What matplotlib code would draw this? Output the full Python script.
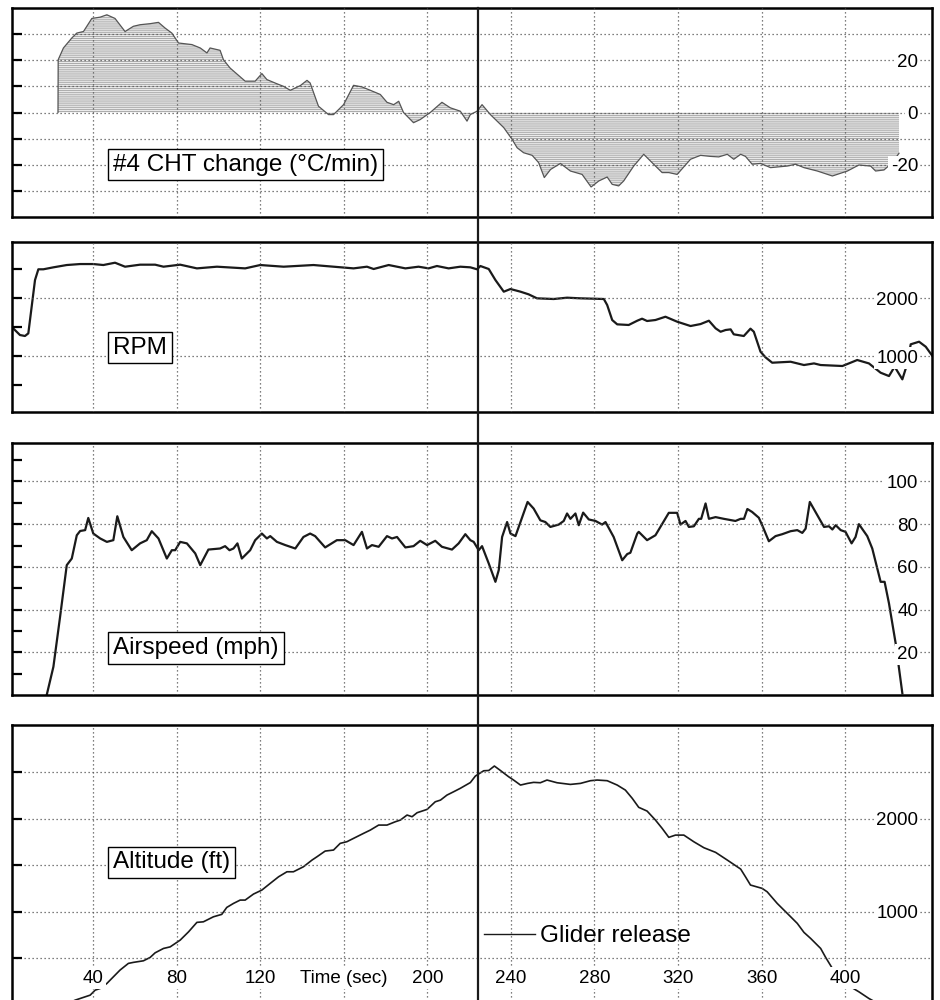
import matplotlib
matplotlib.use("Agg")
import matplotlib.pyplot as plt
import matplotlib.transforms as mtransforms
from matplotlib.lines import Line2D

plt.rcParams["font.family"] = ["Liberation Sans", "DejaVu Sans"]
plt.rcParams["hatch.linewidth"] = 0.6
plt.rcParams["axes.unicode_minus"] = False

# time axis
x_ticks = [40, 80, 120, 160, 200, 240, 280, 320, 360, 400]
x_tick_labels = ["40", "80", "120", "Time (sec)", "200", "240", "280", "320", "360", "400"]
glider_release_t = 224.3

# #4 CHT change (deg C / min)
cht_t = [23.2, 23.3, 25.8, 29.8, 32.2, 35.4, 39.4, 43.4, 46.6, 50.5,
         55.3, 59.3, 62.5, 67.3, 71.3, 74.5, 77.7, 80.9, 87.3, 91.3,
         94.5, 96.0, 100.8, 102.4, 105.6, 112.8, 117.6, 120.8, 123.2, 128.0,
         131.2, 134.4, 139.2, 142.4, 143.9, 147.9, 152.7, 155.1, 159.9, 164.7,
         168.7, 172.7, 177.5, 180.7, 183.9, 186.3, 188.6, 193.4, 196.6, 201.4,
         207.0, 211.0, 215.8, 219.0, 220.6, 223.8, 226.2, 230.2, 236.6, 240.6,
         243.0, 246.1, 250.2, 253.3, 256.0, 259.0, 263.7, 268.5, 274.1, 278.4,
         282.1, 283.7, 286.1, 288.5, 291.6, 294.0, 298.8, 303.6, 307.6, 312.4,
         315.6, 319.6, 326.0, 330.8, 335.5, 339.5, 343.6, 346.7, 350.0, 352.3,
         355.5, 359.5, 364.3, 372.3, 376.3, 380.3, 386.7, 393.9, 401.1, 406.6,
         412.2, 414.6, 418.6, 422.6, 425.8]
cht_v = [0.0, 20.2, 24.7, 28.5, 30.4, 31.0, 36.0, 36.5, 37.4, 36.0,
         31.0, 33.0, 33.6, 34.0, 34.5, 32.3, 30.4, 26.6, 26.0, 24.7,
         22.8, 24.7, 23.8, 20.2, 17.0, 12.0, 12.0, 14.9, 12.6, 11.0,
         10.0, 8.5, 10.3, 12.3, 11.3, 2.4, -0.8, -0.8, 3.0, 10.4,
         9.8, 8.5, 6.9, 3.9, 3.0, 4.3, 0.0, -3.9, -2.7, 0.0,
         3.9, 1.8, 0.5, -3.3, -0.8, 0.5, 3.0, -0.8, -5.8, -10.3,
         -13.5, -15.4, -16.4, -19.2, -24.9, -21.8, -19.5, -22.4, -23.7, -28.5,
         -26.2, -25.6, -24.7, -27.5, -28.1, -26.2, -20.5, -16.0, -19.2, -23.0,
         -23.0, -23.7, -17.9, -16.4, -16.8, -17.0, -16.0, -17.9, -16.0, -16.8,
         -19.8, -19.5, -21.1, -20.5, -19.8, -21.1, -22.4, -24.3, -22.4, -20.1,
         -20.5, -22.4, -22.0, -19.2, -15.6]

# RPM
rpm_t = [1.2, 3.4, 5.0, 7.4, 9.0, 10.6, 12.2, 13.8, 16.2, 21.0,
         27.4, 33.8, 40.1, 44.9, 50.5, 55.3, 62.5, 69.7, 73.7, 81.7,
         89.7, 99.3, 112.8, 120.0, 131.2, 145.5, 155.1, 164.7, 171.1, 174.3,
         181.5, 189.5, 195.8, 200.6, 204.6, 210.2, 215.8, 220.6, 223.8, 225.4,
         229.4, 232.6, 236.6, 239.8, 244.6, 248.5, 252.5, 260.5, 266.9, 273.3,
         284.5, 286.1, 288.5, 290.9, 296.4, 300.5, 302.8, 305.2, 309.2, 314.0,
         319.6, 326.0, 330.8, 334.8, 338.0, 340.4, 342.8, 345.2, 346.7, 351.5,
         354.7, 356.3, 359.5, 361.9, 365.1, 373.9, 380.3, 385.1, 388.3, 398.7,
         401.8, 405.8, 411.4, 417.0, 421.0, 423.7, 427.4, 429.8, 431.4, 435.4,
         438.6, 441.8]
rpm_v = [1500, 1421, 1364, 1347, 1393, 1855, 2317, 2503, 2503, 2537,
         2577, 2594, 2594, 2577, 2617, 2548, 2583, 2583, 2548, 2583,
         2519, 2548, 2519, 2577, 2548, 2577, 2548, 2519, 2548, 2508,
         2577, 2519, 2548, 2519, 2560, 2519, 2548, 2537, 2503, 2560,
         2508, 2317, 2115, 2161, 2115, 2069, 2000, 1988, 2011, 2000,
         1988, 1884, 1624, 1549, 1538, 1612, 1647, 1607, 1624, 1681,
         1595, 1520, 1554, 1612, 1480, 1421, 1451, 1462, 1376, 1347,
         1474, 1421, 1075, 977, 884, 901, 844, 872, 844, 827,
         872, 931, 872, 711, 653, 815, 596, 872, 1203, 1248,
         1161, 1000]

# Airspeed (mph)
air_t = [17.8, 21.0, 24.2, 27.4, 29.8, 32.2, 33.8, 36.2, 37.7, 40.1,
         43.4, 46.6, 49.7, 51.6, 54.5, 58.5, 62.5, 65.7, 68.1, 71.3,
         75.3, 77.7, 79.3, 81.7, 84.9, 88.9, 91.3, 95.2, 100.8, 103.2,
         105.3, 107.2, 109.1, 111.2, 115.2, 117.6, 120.8, 123.2, 124.8, 128.0,
         132.0, 136.8, 140.7, 143.9, 146.3, 151.1, 156.7, 160.7, 164.7, 168.7,
         171.1, 173.5, 176.7, 180.7, 183.1, 185.5, 189.5, 193.4, 196.6, 199.9,
         203.8, 207.0, 211.8, 215.0, 218.2, 220.6, 222.2, 224.6, 226.2, 229.4,
         232.6, 234.2, 235.8, 238.2, 239.8, 242.2, 244.6, 248.0, 250.9, 254.1,
         256.5, 258.9, 262.9, 265.3, 266.9, 268.5, 270.9, 272.5, 274.6, 277.3,
         280.5, 283.7, 285.3, 289.2, 293.3, 295.7, 297.2, 300.5, 301.2, 305.2,
         309.2, 315.6, 319.6, 321.2, 323.6, 325.2, 327.6, 330.0, 331.1, 333.2,
         334.8, 338.0, 341.9, 347.5, 350.0, 351.6, 353.2, 355.5, 358.7, 360.3,
         363.5, 366.7, 369.9, 373.9, 377.1, 379.5, 381.1, 383.1, 386.7, 389.9,
         392.3, 393.9, 395.5, 397.9, 400.2, 403.1, 405.0, 406.6, 410.6, 413.0,
         417.0, 418.9, 421.0, 424.2, 427.4]
air_v = [0.0, 13.2, 36.6, 60.8, 63.9, 74.8, 76.8, 77.2, 82.9, 75.6,
         73.3, 71.7, 72.5, 83.7, 74.0, 67.8, 71.0, 72.5, 76.7, 73.3,
         63.9, 67.8, 67.8, 71.7, 71.0, 66.3, 60.8, 68.1, 68.6, 69.7,
         67.8, 68.6, 71.0, 63.9, 67.8, 72.5, 75.6, 73.3, 74.4, 71.7,
         70.2, 68.6, 74.0, 75.6, 74.4, 69.1, 72.5, 72.5, 70.2, 76.4,
         68.6, 70.2, 69.4, 74.4, 73.3, 74.0, 69.1, 69.7, 72.2, 70.2,
         72.2, 69.4, 68.1, 71.0, 75.3, 72.5, 71.7, 67.8, 69.7, 61.6,
         53.0, 58.5, 74.0, 81.0, 75.6, 74.4, 81.0, 90.4, 87.3, 81.8,
         81.0, 78.7, 79.8, 81.5, 85.0, 82.5, 85.0, 79.5, 85.4, 82.2,
         81.5, 79.8, 81.0, 74.0, 63.1, 66.0, 66.6, 75.6, 76.4, 72.5,
         74.8, 85.3, 85.3, 79.8, 81.5, 78.7, 79.0, 82.5, 82.5, 89.7,
         82.5, 83.3, 82.5, 81.5, 82.5, 82.5, 87.1, 85.7, 83.0, 79.5,
         72.0, 74.4, 75.3, 76.7, 77.2, 75.9, 77.9, 90.4, 84.2, 78.7,
         79.0, 77.5, 79.5, 77.2, 76.4, 71.0, 74.0, 80.0, 74.4, 68.6,
         53.0, 53.0, 42.9, 24.2, 0.8]

# Altitude (ft)
alt_t = [28.0, 31.4, 36.2, 38.6, 41.0, 43.4, 46.6, 49.7, 52.9, 56.9,
         59.3, 64.1, 67.3, 69.7, 73.7, 76.9, 81.7, 85.7, 89.7, 92.8,
         97.6, 101.6, 104.0, 107.2, 110.4, 112.8, 116.8, 120.8, 124.8, 128.8,
         132.8, 135.9, 140.7, 144.8, 147.2, 151.1, 155.1, 158.3, 161.5, 164.7,
         169.5, 172.7, 176.7, 180.7, 184.7, 187.1, 190.3, 192.7, 195.1, 199.9,
         203.8, 206.3, 209.4, 212.6, 215.8, 220.6, 223.0, 227.0, 229.4, 232.1,
         235.0, 238.9, 241.3, 244.6, 248.0, 250.9, 254.1, 257.3, 262.1, 268.5,
         273.3, 278.1, 281.3, 286.1, 290.9, 294.8, 298.1, 301.2, 305.2, 309.2,
         312.4, 315.6, 318.8, 322.8, 327.6, 332.4, 338.0, 343.6, 350.0, 352.3,
         354.7, 360.3, 362.7, 367.5, 372.3, 377.1, 380.3, 383.5, 388.3, 390.7,
         393.9, 398.0, 402.6, 406.6, 411.4, 415.4]
alt_v = [10, 46, 82, 100, 154, 172, 226, 297, 370, 442,
         453, 470, 506, 556, 603, 620, 693, 782, 884, 890,
         944, 970, 1045, 1088, 1124, 1124, 1189, 1232, 1304, 1375,
         1429, 1429, 1483, 1555, 1591, 1652, 1663, 1735, 1753, 1789,
         1843, 1878, 1932, 1932, 1968, 1986, 2040, 2022, 2065, 2101,
         2183, 2201, 2255, 2291, 2328, 2390, 2460, 2517, 2520, 2568,
         2520, 2453, 2417, 2363, 2381, 2392, 2388, 2417, 2388, 2370,
         2381, 2410, 2417, 2410, 2363, 2309, 2220, 2123, 2083, 1986,
         1897, 1800, 1824, 1824, 1752, 1688, 1638, 1555, 1458, 1375,
         1286, 1250, 1213, 1088, 981, 873, 776, 711, 603, 506,
         388, 290, 190, 136, 64, 14]

# per panel: title, ylim, labelled ticks, unlabelled ticks, grid on minor ticks
panels = [
    ("#4 CHT change (°C/min)", (-40, 40), [-20, 0, 20], [-30, -10, 10, 30], True),
    ("RPM", (30, 2976), [1000, 2000], [500, 1500, 2500], False),
    ("Airspeed (mph)", (0, 118), [20, 40, 60, 80, 100], [10, 30, 50, 70, 90, 110], False),
    ("Altitude (ft)", (-60, 3010), [1000, 2000], [500, 1500, 2500], True),
]
# axes rectangles [left, bottom, width, height] in figure fraction
rects = [
    [0.0128, 0.783, 0.9787, 0.209],
    [0.0128, 0.588, 0.9787, 0.170],
    [0.0128, 0.305, 0.9787, 0.252],
    [0.0128, -0.010, 0.9787, 0.285],
]
label_pos = [0.251, 0.379, 0.187, 0.518]

grid_kw = dict(color="#555555", linestyle=(0, (1, 2.2)), linewidth=0.9)
white_box = dict(boxstyle="square,pad=0.12", facecolor="white", edgecolor="none")

fig = plt.figure(figsize=(9.4, 10), dpi=100)
axes = []
for (title, ylim, major, minor, minor_grid), rect, ly in zip(panels, rects, label_pos):
    ax = fig.add_axes(rect)
    ax.set_xlim(1.2, 441.6)
    ax.set_ylim(*ylim)
    ax.set_axisbelow(False)
    for sp in ax.spines.values():
        sp.set_linewidth(1.8)
    ax.set_xticks(x_ticks)
    ax.set_yticks(major)
    ax.set_yticks(minor, minor=True)
    ax.tick_params(axis="y", which="both", direction="in", length=7.5, width=1.6,
                   left=True, right=False, labelleft=False, labelright=True,
                   pad=-10, labelsize=13.5)
    ax.tick_params(axis="x", which="both", length=0, labelbottom=False)
    for lab in ax.get_yticklabels():
        lab.set_horizontalalignment("right")
        lab.set_bbox(white_box)
    ax.xaxis.grid(True, **grid_kw)
    ax.yaxis.grid(True, which="major", **grid_kw)
    if minor_grid:
        ax.yaxis.grid(True, which="minor", **grid_kw)
    ax.text(0.110, ly, title, transform=ax.transAxes, fontsize=17.5, va="center", ha="left",
            bbox=dict(boxstyle="square,pad=0.2", facecolor="white", edgecolor="black", linewidth=1.0),
            zorder=4)
    axes.append(ax)

ax1, ax2, ax3, ax4 = axes

# CHT: hatched fill to zero
ax1.fill_between(cht_t, cht_v, 0, interpolate=True, facecolor="#ebebeb",
                 edgecolor="#a0a0a0", hatch="--------", linewidth=0, zorder=1)
ax1.plot(cht_t, cht_v, color="#555555", linewidth=0.9, zorder=2)

ax2.plot(rpm_t, rpm_v, color="#1a1a1a", linewidth=1.6)
ax3.plot(air_t, air_v, color="#1a1a1a", linewidth=1.6)
ax4.plot(alt_t, alt_v, color="#1a1a1a", linewidth=1.2)

# x tick labels inside the bottom panel
ax4.set_xticks(x_ticks, x_tick_labels)
ax4.tick_params(axis="x", labelbottom=True, pad=-29, labelsize=13.5)
for lab in ax4.get_xticklabels():
    lab.set_bbox(white_box)

# glider release line through all panels
trans = mtransforms.blended_transform_factory(ax1.transData, fig.transFigure)
top = ax1.get_position().y1
fig.add_artist(Line2D([glider_release_t, glider_release_t], [0, top], transform=trans,
                      color="#1a1a1a", linewidth=1.6, zorder=5))

ax4.legend(handles=[Line2D([], [], color="#1a1a1a", linewidth=1.0)], labels=["Glider release"],
           loc="center left", bbox_to_anchor=(0.513, 0.258), frameon=False, borderpad=0,
           borderaxespad=0, handlelength=2.1, handletextpad=0.2, fontsize=17.5)

fig.savefig("out.png", dpi=100)
